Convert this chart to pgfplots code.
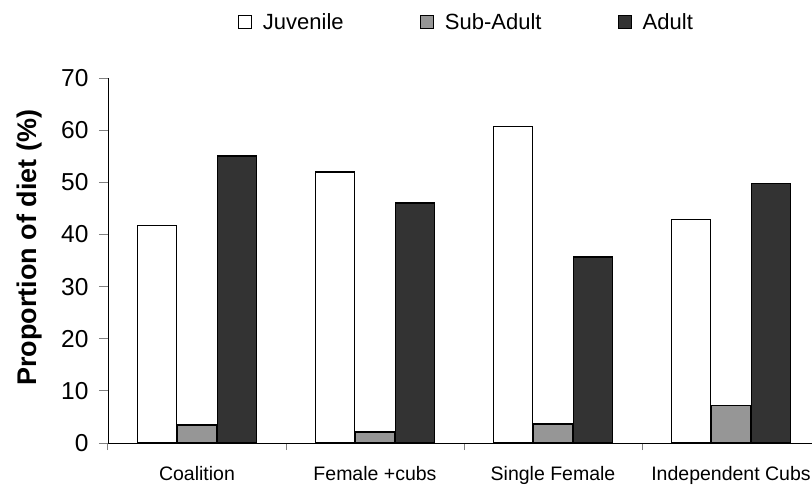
\documentclass[border=0pt]{standalone}
\usepackage{pgfplots}
\pgfplotsset{compat=1.18}
\usepackage{fontspec}
\setmainfont{Liberation Sans}

\definecolor{subgray}{HTML}{969696}
\definecolor{adultgray}{HTML}{333333}
\definecolor{tickgray}{HTML}{808080}

\begin{document}
\begin{tikzpicture}
% page = 812 x 488, axis box starts at (108,443) px
\path[use as bounding box] (-108pt,-45pt) rectangle (704pt,443pt);
\begin{axis}[
    at={(0pt,0pt)}, anchor=south west,
    scale only axis,
    width=704pt, height=365pt,
    ybar=1pt, bar width=39pt,
    xmin=-0.5, xmax=3.455,
    ymin=0, ymax=70,
    axis lines*=left,
    axis line style={black, line width=0.9pt},
    xtick={0,1,2,3},
    xticklabels={Coalition, Female +cubs, Single Female, Independent Cubs},
    major x tick style={draw=none},
    minor xtick={-0.5,0.5,1.5,2.5},
    minor tick length=7pt,
    ytick={0,10,...,70},
    major tick length=9pt,
    tick align=outside,
    tick style={tickgray, line width=1pt},
    /pgf/number format/assume math mode=true,
    y tick label style={font=\fontsize{24.5}{28}\selectfont, xshift=-7pt},
    x tick label style={font=\fontsize{19.5}{24}\selectfont, yshift=-11pt},
    ylabel={\textbf{Proportion of diet (\%)}},
    every axis y label/.style={at={(rel axis cs:-0.111,0.535)}, rotate=90,
        anchor=center, font=\fontsize{27}{30}\selectfont},
    legend columns=3,
    legend style={draw=none, fill=none, at={(0.509,1.153)}, anchor=center,
        font=\fontsize{22}{26}\selectfont,
        /tikz/every odd column/.append style={column sep=9pt},
        /tikz/every even column/.append style={column sep=74pt}},
    legend image code/.code={\draw[#1, line width=1.2pt] (0pt,-6.5pt) rectangle (13pt,6.5pt);},
    clip=false,
]
\addplot[fill=white, draw=black, line width=1.6pt] coordinates {
    (0,41.7) (1,52.0) (2,60.7) (3,42.9)
};
\addplot[fill=subgray, draw=black, line width=1.6pt] coordinates {
    (0,3.4) (1,2.1) (2,3.7) (3,7.2)
};
\addplot[fill=adultgray, draw=black, line width=1.6pt] coordinates {
    (0,55.0) (1,46.0) (2,35.7) (3,49.8)
};
\legend{Juvenile, Sub-Adult, Adult}
\end{axis}
\end{tikzpicture}
\end{document}
